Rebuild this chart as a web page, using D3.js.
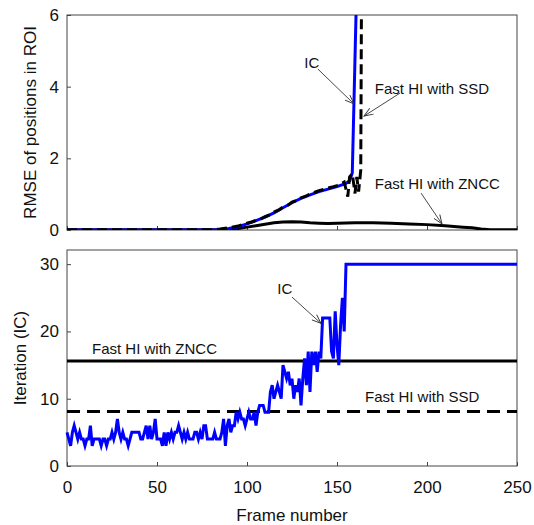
<!DOCTYPE html>
<html>
<head>
<meta charset="utf-8">
<script src="https://cdn.jsdelivr.net/npm/d3@7"></script>
<style>
  body { margin: 0; background: #fff; }
  text { font-family: Arial, "Liberation Sans", sans-serif; fill: #111; }
</style>
</head>
<body>
<div id="chart-container"></div>
<script>
// ---- data ----
const frameTicks = [0, 50, 100, 150, 200, 250];
const rmseTicks = [0, 2, 4, 6];
const iterTicks = [0, 10, 20, 30];

// RMSE (top panel), [frame, value]
const rmseIC = [[0,0],[40,0],[80,0],[85,0.01],[90,0.04],[95,0.09],[100,0.17],[105,0.26],[110,0.36],[115,0.48],[120,0.62],[125,0.76],[130,0.88],[135,0.98],[140,1.07],[145,1.14],[150,1.21],[155,1.3],[157,1.38],[158.5,1.6],[160.8,6.5]];
const rmseSSD = [[0,0.01],[40,0.01],[80,0.01],[85,0.03],[90,0.06],[95,0.11],[100,0.19],[103,0.23],[105,0.27],[108,0.32],[110,0.37],[113,0.43],[115,0.5],[118,0.57],[120,0.64],[123,0.7],[125,0.78],[128,0.83],[130,0.9],[133,0.95],[135,1.01],[138,1.06],[140,1.1],[143,1.14],[145,1.17],[148,1.21],[150,1.24],[152,1.28],[154,1.34],[156,0.93],[157,1.48],[158.5,1.57],[160,1.02],[161,1.48],[162,1.07],[163.2,1.67],[163.6,6.5]];
const rmseZNCC = [[0,0.01],[85,0.01],[90,0.02],[95,0.04],[100,0.08],[105,0.12],[110,0.16],[115,0.2],[120,0.22],[125,0.23],[130,0.22],[135,0.2],[140,0.19],[145,0.18],[150,0.19],[160,0.2],[170,0.2],[180,0.19],[190,0.17],[200,0.15],[210,0.12],[220,0.08],[225,0.06],[230,0.03],[235,0.01],[250,0.01]];

// Iterations of IC, one value per frame from frame 0 to 155
const iterIC = [5,4,3,5,6,5,4,5,4,4,3,4,4,6,3,4,4,4,4,3,
  4,4,3,4,4,5,4,5,7,5,4,5,4,4,3,4,5,5,5,5,
  5,4,4,5,6,4,6,4,5,7,4,4,4,3,5,3,5,4,5,4,
  5,5,6,5,4,5,4,5,4,4,4,5,5,4,5,4,6,6,4,4,
  4,4,5,4,4,4,5,7,3,6,7,5,6,6,8,7,8,7,7,6,
  7,8,7,7,8,6,8,9,9,9,8,8,8,11,12,10,11,12,11,10,
  15,14,13,14,12,13,10,12,11,13,9,13,16,12,17,11,17,15,17,14,
  17,16,22,22,22,22,22,17,16,23,18,15,21,25,20,30];
const iterICEnd = [250, 30];
const iterZNCC = 15.6;
const iterSSD = 8.1;

// annotations, positions in data units
const topNotes = [
  {text: "IC", x: 136, y: 4.67, anchor: "middle", from: [139.4, 4.49], to: [159.4, 3.52]},
  {text: "Fast HI with SSD", x: 171, y: 3.93, anchor: "start", from: [185, 3.82], to: [165, 3.18]},
  {text: "Fast HI with ZNCC", x: 171, y: 1.3, anchor: "start", from: [196.7, 1.03], to: [208.3, 0.17]}
];
const bottomNotes = [
  {text: "IC", x: 121, y: 26.4, anchor: "middle", from: [125, 25.1], to: [141.1, 21.2]},
  {text: "Fast HI with ZNCC", x: 13.9, y: 17.4, anchor: "start"},
  {text: "Fast HI with SSD", x: 165.6, y: 10.25, anchor: "start"}
];

// ---- layout ----
const W = 534, H = 525;
const left = 67, right = 517;
const topPanel = {top: 15, bottom: 230};
const botPanel = {top: 250, bottom: 466};
const frameColor = "#444";

const svg = d3.select("#chart-container").append("svg")
    .attr("width", W)
    .attr("height", H);

const defs = svg.append("defs");
defs.append("marker")
    .attr("id", "arrow")
    .attr("markerUnits", "userSpaceOnUse")
    .attr("viewBox", "-10 -5 12 10")
    .attr("refX", 0).attr("refY", 0)
    .attr("markerWidth", 12).attr("markerHeight", 10)
    .attr("orient", "auto")
    .append("path")
    .attr("d", "M-9,-3.5 L0,0 L-9,3.5")
    .attr("fill", "none")
    .attr("stroke", "#333")
    .attr("stroke-width", 0.9);

const x = d3.scaleLinear().domain([0, 250]).range([left, right]);
const yTop = d3.scaleLinear().domain([0, 6]).range([topPanel.bottom, topPanel.top]);
const yBot = d3.scaleLinear().domain([0, 32.1]).range([botPanel.bottom, botPanel.top]);

defs.append("clipPath").attr("id", "clipTop")
  .append("rect")
    .attr("x", left).attr("y", topPanel.top)
    .attr("width", right - left).attr("height", topPanel.bottom - topPanel.top);

function drawFrame(panel, y, ticks, showX) {
    // bottom axis, ticks inside
    const gx = svg.append("g")
        .attr("transform", `translate(0, ${panel.bottom})`)
        .call(d3.axisBottom(x).tickValues(frameTicks).tickSize(-4).tickPadding(15)
            .tickFormat(showX ? d3.format("d") : ""));
    gx.select(".domain").remove();
    gx.selectAll("line").attr("stroke", frameColor);
    gx.selectAll("text").attr("font-size", 17).attr("fill", "#111");

    const gy = svg.append("g")
        .attr("transform", `translate(${left}, 0)`)
        .call(d3.axisLeft(y).tickValues(ticks).tickSize(-4).tickPadding(8)
            .tickFormat(d3.format("d")));
    gy.select(".domain").remove();
    gy.selectAll("line").attr("stroke", frameColor);
    gy.selectAll("text").attr("font-size", 17).attr("fill", "#111");

    svg.append("rect")
        .attr("x", left).attr("y", panel.top)
        .attr("width", right - left).attr("height", panel.bottom - panel.top)
        .attr("fill", "none")
        .attr("stroke", frameColor)
        .attr("stroke-width", 1);
}

drawFrame(topPanel, yTop, rmseTicks, false);
drawFrame(botPanel, yBot, iterTicks, true);

// ---- top panel lines ----
const lineTop = d3.line().x(d => x(d[0])).y(d => yTop(d[1]));
const gTop = svg.append("g").attr("clip-path", "url(#clipTop)");

gTop.append("path").datum(rmseZNCC)
    .attr("d", lineTop).attr("fill", "none")
    .attr("stroke", "#000").attr("stroke-width", 3);
gTop.append("path").datum(rmseIC)
    .attr("d", lineTop).attr("fill", "none")
    .attr("stroke", "#0000ff").attr("stroke-width", 3);
gTop.append("path").datum(rmseSSD)
    .attr("d", lineTop).attr("fill", "none")
    .attr("stroke", "#000").attr("stroke-width", 3)
    .attr("stroke-dasharray", "10,5");

// ---- bottom panel lines ----
svg.append("line")
    .attr("x1", x(0)).attr("x2", x(250))
    .attr("y1", yBot(iterZNCC)).attr("y2", yBot(iterZNCC))
    .attr("stroke", "#000").attr("stroke-width", 3);
svg.append("line")
    .attr("x1", x(0)).attr("x2", x(250))
    .attr("y1", yBot(iterSSD)).attr("y2", yBot(iterSSD))
    .attr("stroke", "#000").attr("stroke-width", 3)
    .attr("stroke-dasharray", "13,7");

const iterPoints = iterIC.map((v, i) => [i, v]).concat([iterICEnd]);
svg.append("path").datum(iterPoints)
    .attr("d", d3.line().x(d => x(d[0])).y(d => yBot(d[1])))
    .attr("fill", "none")
    .attr("stroke", "#0000ff").attr("stroke-width", 3)
    .attr("stroke-linejoin", "miter");

// ---- annotations ----
function drawNotes(notes, y) {
    notes.forEach(n => {
        svg.append("text")
            .attr("x", x(n.x)).attr("y", y(n.y))
            .attr("dy", "0.35em")
            .attr("text-anchor", n.anchor)
            .attr("font-size", 15)
            .text(n.text);
        if (n.from) {
            svg.append("line")
                .attr("x1", x(n.from[0])).attr("y1", y(n.from[1]))
                .attr("x2", x(n.to[0])).attr("y2", y(n.to[1]))
                .attr("stroke", "#333").attr("stroke-width", 0.9)
                .attr("marker-end", "url(#arrow)");
        }
    });
}
drawNotes(topNotes, yTop);
drawNotes(bottomNotes, yBot);

// ---- axis titles ----
svg.append("text")
    .attr("transform", `translate(30, ${(topPanel.top + topPanel.bottom) / 2}) rotate(-90)`)
    .attr("text-anchor", "middle")
    .attr("dy", "0.35em")
    .attr("font-size", 17)
    .text("RMSE of positions in ROI");

svg.append("text")
    .attr("transform", `translate(20, ${(botPanel.top + botPanel.bottom) / 2}) rotate(-90)`)
    .attr("text-anchor", "middle")
    .attr("dy", "0.35em")
    .attr("font-size", 17)
    .text("Iteration (IC)");

svg.append("text")
    .attr("x", (left + right) / 2)
    .attr("y", 521)
    .attr("text-anchor", "middle")
    .attr("font-size", 17)
    .text("Frame number");
</script>
</body>
</html>
